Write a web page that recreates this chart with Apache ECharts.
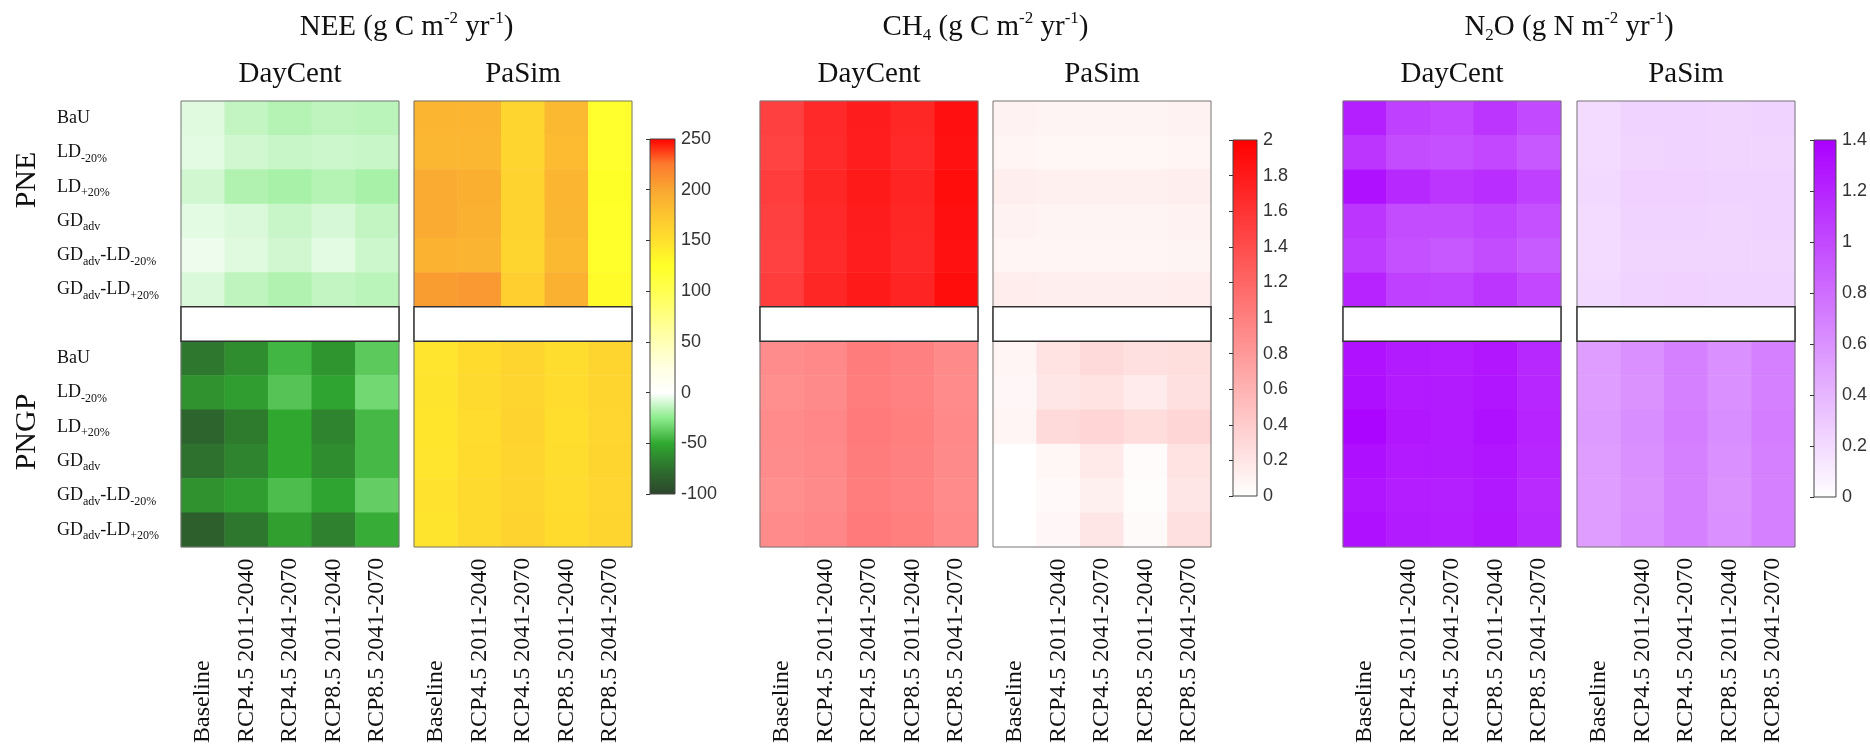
<!DOCTYPE html>
<html><head><meta charset="utf-8">
<script src="https://cdn.jsdelivr.net/npm/echarts@6/dist/echarts.min.js"></script>
<style>html,body{margin:0;padding:0;background:#fff}#c{width:1870px;height:747px}</style>
</head><body><div id="c"></div>
<script>
// ---------- categories / labels ----------
const scenarios = ['Baseline','RCP4.5 2011-2040','RCP4.5 2041-2070','RCP8.5 2011-2040','RCP8.5 2041-2070'];
const managements = ['BaU','LD_{-20%}','LD_{+20%}','GD_{adv}','GD_{adv}-LD_{-20%}','GD_{adv}-LD_{+20%}'];
const sites = ['PNE','PNGP'];
const models = ['DayCent','PaSim'];

// ---------- NEE (g C m-2 yr-1) ----------
const neeDayCentPNE = [
  [-7,-13,-16,-14,-15],
  [-6,-10,-12,-11,-12],
  [-10,-17,-19,-16,-19],
  [-6,-8,-12,-9,-13],
  [-4,-7,-10,-6,-11],
  [-8,-14,-17,-13,-15]];
const neeDayCentPNGP = [
  [-72,-62,-45,-58,-38],
  [-60,-55,-40,-52,-32],
  [-82,-70,-50,-66,-44],
  [-75,-66,-50,-62,-44],
  [-60,-55,-42,-52,-36],
  [-85,-72,-54,-68,-48]];
const neePaSimPNE = [
  [188,188,160,185,122],
  [186,186,160,183,122],
  [195,193,162,188,125],
  [196,192,162,187,124],
  [190,189,160,185,123],
  [205,208,166,192,128]];
const neePaSimPNGP = [
  [146,155,160,153,160],
  [147,156,161,154,160],
  [145,154,162,152,159],
  [146,155,161,153,160],
  [148,156,160,154,159],
  [147,156,162,155,161]];

// ---------- CH4 (g C m-2 yr-1) ----------
const ch4DayCentPNE = [
  [1.50,1.68,1.78,1.70,1.88],
  [1.48,1.66,1.77,1.68,1.87],
  [1.52,1.70,1.80,1.72,1.90],
  [1.50,1.68,1.78,1.70,1.88],
  [1.49,1.67,1.77,1.69,1.87],
  [1.52,1.70,1.80,1.72,1.90]];
const ch4DayCentPNGP = [
  [0.90,0.93,1.03,1.00,0.92],
  [0.89,0.92,1.02,0.99,0.91],
  [0.91,0.94,1.04,1.01,0.93],
  [0.90,0.93,1.03,1.00,0.92],
  [0.89,0.92,1.02,0.99,0.91],
  [0.91,0.94,1.04,1.01,0.93]];
const ch4PaSimPNE = [
  [0.10,0.09,0.09,0.09,0.10],
  [0.08,0.07,0.07,0.07,0.08],
  [0.13,0.12,0.12,0.12,0.13],
  [0.10,0.09,0.09,0.09,0.10],
  [0.08,0.08,0.08,0.08,0.09],
  [0.14,0.13,0.13,0.13,0.14]];
const ch4PaSimPNGP = [
  [0.08,0.22,0.29,0.24,0.26],
  [0.06,0.20,0.23,0.16,0.24],
  [0.08,0.29,0.33,0.27,0.32],
  [0.00,0.07,0.17,0.03,0.22],
  [0.00,0.05,0.12,0.02,0.20],
  [0.00,0.06,0.20,0.04,0.24]];

// ---------- N2O (g N m-2 yr-1) ----------
const n2oDayCentPNE = [
  [1.23,1.05,1.01,1.11,1.00],
  [1.11,0.98,0.96,1.01,0.92],
  [1.31,1.18,1.11,1.15,1.05],
  [1.11,0.98,0.98,1.03,0.96],
  [1.07,0.96,0.92,0.98,0.90],
  [1.21,1.05,1.03,1.11,1.01]];
const n2oDayCentPNGP = [
  [1.30,1.25,1.24,1.28,1.18],
  [1.32,1.26,1.25,1.29,1.19],
  [1.38,1.28,1.26,1.31,1.21],
  [1.32,1.26,1.25,1.29,1.19],
  [1.29,1.24,1.23,1.27,1.17],
  [1.31,1.25,1.24,1.28,1.18]];
const n2oPaSimPNE = [
  [0.20,0.24,0.24,0.23,0.24],
  [0.20,0.23,0.24,0.23,0.23],
  [0.21,0.25,0.25,0.24,0.24],
  [0.20,0.24,0.24,0.23,0.24],
  [0.20,0.23,0.23,0.23,0.23],
  [0.21,0.24,0.25,0.24,0.24]];
const n2oPaSimPNGP = [
  [0.54,0.61,0.70,0.61,0.70],
  [0.54,0.60,0.69,0.61,0.69],
  [0.55,0.62,0.71,0.62,0.71],
  [0.54,0.61,0.70,0.61,0.70],
  [0.53,0.60,0.69,0.60,0.69],
  [0.54,0.61,0.70,0.61,0.70]];

// ---------- colour scales ----------
const neeRange = [-100, 250], neeTicks = 50;
const ch4Range = [0, 2], ch4Ticks = 0.2;
const n2oRange = [0, 1.4], n2oTicks = 0.2;
const neeColors = ['#2c452c','#2e702e','#30a830','#8cec8c','#ffffff','#ffffe2','#ffffb4','#ffff84','#ffff50','#ffff28','#ffe02e','#fdc530','#f9a632','#fd7a2e','#ff0000'];
const ch4Colors = ['#ffffff','#ff0000'];
const n2oColors = ['#ffffff','#aa00ff'];

// ---------- layout ----------
const SERIF = '"Liberation Serif","Times New Roman",serif';
const SANS = '"Liberation Sans",Arial,sans-serif';
const panelTop = 101, panelH = 446, panelW = 218;
const panelLefts = [[181,414],[760,993],[1343,1577]];
const cbars = [[650,139,25,355],[1233,140,24,356],[1814,140,24,357]];

const gases = [
  {title:'{t|NEE (g C m}{sup|-2}{t| yr}{sup|-1}{t|)}', range:neeRange, ticks:neeTicks, colors:neeColors,
   data:[[neeDayCentPNE,neeDayCentPNGP],[neePaSimPNE,neePaSimPNGP]]},
  {title:'{t|CH}{sub|4}{t| (g C m}{sup|-2}{t| yr}{sup|-1}{t|)}', range:ch4Range, ticks:ch4Ticks, colors:ch4Colors,
   data:[[ch4DayCentPNE,ch4DayCentPNGP],[ch4PaSimPNE,ch4PaSimPNGP]]},
  {title:'{t|N}{sub|2}{t|O (g N m}{sup|-2}{t| yr}{sup|-1}{t|)}', range:n2oRange, ticks:n2oTicks, colors:n2oColors,
   data:[[n2oDayCentPNE,n2oDayCentPNGP],[n2oPaSimPNE,n2oPaSimPNGP]]}
];

// y categories: 6 PNE rows, a gap row, 6 PNGP rows
const gapKey = 'gap';
const yCats = [...managements.map(m => sites[0] + ':' + m), gapKey, ...managements.map(m => sites[1] + ':' + m)];
const gapIdx = managements.length;

function richLabel(v) {
  if (v === gapKey) return '';
  const lab = v.split(':')[1];
  return '{m|' + lab.replace(/_\{([^}]*)\}/g, '}{s|$1}{m|') + '}';
}

const grids = [], xAxes = [], yAxes = [], series = [], gapSeries = [], titles = [], visualMaps = [];
const titleRich = {
  t:{fontFamily:SERIF,fontSize:29,fontWeight:'normal',color:'#111',lineHeight:34},
  sup:{fontFamily:SERIF,fontSize:17,fontWeight:'normal',color:'#111',lineHeight:22,verticalAlign:'top'},
  sub:{fontFamily:SERIF,fontSize:17,fontWeight:'normal',color:'#111',lineHeight:17,verticalAlign:'bottom'}
};

gases.forEach((g, gi) => {
  const l0 = panelLefts[gi][0], l1 = panelLefts[gi][1];
  titles.push({text:g.title, left:(l0 + l1 + panelW) / 2, top:10, textAlign:'center', padding:0,
    textStyle:{fontWeight:'normal', fontFamily:SERIF, fontSize:29, rich:titleRich}});
  const seriesIdx = [];
  models.forEach((mName, mi) => {
    const idx = grids.length;
    const left = panelLefts[gi][mi];
    grids.push({left:left, top:panelTop, width:panelW, height:panelH, show:true, z:10,
      backgroundColor:'rgba(0,0,0,0)', borderColor:'#777', borderWidth:1, containLabel:false});
    titles.push({text:mName, left:left + panelW / 2, top:57, textAlign:'center', padding:0,
      textStyle:{fontFamily:SERIF, fontSize:29, fontWeight:'normal', color:'#111', lineHeight:34}});
    xAxes.push({type:'category', gridIndex:idx, data:scenarios, position:'bottom',
      axisLine:{show:false}, axisTick:{show:false}, splitLine:{show:false},
      axisLabel:{interval:0, rotate:90, align:'left', verticalAlign:'middle', margin:196,
        fontFamily:SERIF, fontSize:24, color:'#111'}});
    yAxes.push({type:'category', gridIndex:idx, data:yCats, inverse:true,
      axisLine:{show:false}, axisTick:{show:false}, splitLine:{show:false},
      axisLabel:{show: idx === 0, interval:0, align:'left', margin:124, formatter:richLabel,
        rich:{m:{fontFamily:SERIF,fontSize:18,color:'#111',lineHeight:24},
              s:{fontFamily:SERIF,fontSize:12,color:'#111',lineHeight:12,verticalAlign:'bottom'}}}});
    const cells = [];
    g.data[mi].forEach((block, si) => {
      block.forEach((row, r) => row.forEach((v, c) => {
        cells.push([c, r + si * (gapIdx + 1), v]);
      }));
    });
    seriesIdx.push(series.length);
    series.push({type:'heatmap', xAxisIndex:idx, yAxisIndex:idx, data:cells, progressive:0,
      itemStyle:{borderWidth:0}, emphasis:{disabled:true}, silent:true});
    gapSeries.push({type:'custom', xAxisIndex:idx, yAxisIndex:idx, z:12, silent:true,
      data:[[0, gapIdx, scenarios.length - 1]],
      renderItem:function(params, api) {
        const a = api.coord([api.value(0), api.value(1)]);
        const b = api.coord([api.value(2), api.value(1)]);
        const s = api.size([1, 1]);
        return {type:'rect', shape:{x:a[0] - s[0] / 2, y:a[1] - s[1] / 2, width:b[0] - a[0] + s[0], height:s[1]},
          style:{fill:'#fff', stroke:'#333', lineWidth:1.5}};
      }});
  });
  visualMaps.push({type:'continuous', show:false, min:g.range[0], max:g.range[1], seriesIndex:seriesIdx,
    inRange:{color:g.colors}});
});

// colour bars: grid with gradient background + value axis for ticks
gases.forEach((g, gi) => {
  const cb = cbars[gi];
  const idx = grids.length;
  const stops = g.colors.map((c, i) => ({offset:i / (g.colors.length - 1), color:c}));
  grids.push({left:cb[0], top:cb[1], width:cb[2], height:cb[3], show:true, z:1,
    backgroundColor:new echarts.graphic.LinearGradient(0, 1, 0, 0, stops),
    borderColor:'#444', borderWidth:1});
  xAxes.push({type:'value', gridIndex:idx, show:false, min:0, max:1});
  yAxes.push({type:'value', gridIndex:idx, min:g.range[0], max:g.range[1], interval:g.ticks, position:'right',
    axisLine:{show:false}, splitLine:{show:false},
    axisTick:{show:true, inside:true, length:4, lineStyle:{color:'#333'}},
    axisLabel:{margin:6, fontFamily:SANS, fontSize:18, color:'#333'}});
});

const chart = echarts.init(document.getElementById('c'), null, {renderer:'canvas'});
chart.setOption({
  animation:false,
  backgroundColor:'#fff',
  title:titles,
  grid:grids,
  xAxis:xAxes,
  yAxis:yAxes,
  visualMap:visualMaps,
  series:series.concat(gapSeries),
  graphic:[
    {type:'text', x:27, y:180, rotation:Math.PI / 2,
     style:{text:sites[0], font:'30px ' + SERIF, fill:'#111', align:'center', verticalAlign:'middle'}},
    {type:'text', x:27, y:432, rotation:Math.PI / 2,
     style:{text:sites[1], font:'30px ' + SERIF, fill:'#111', align:'center', verticalAlign:'middle'}}
  ]
});
</script></body></html>
